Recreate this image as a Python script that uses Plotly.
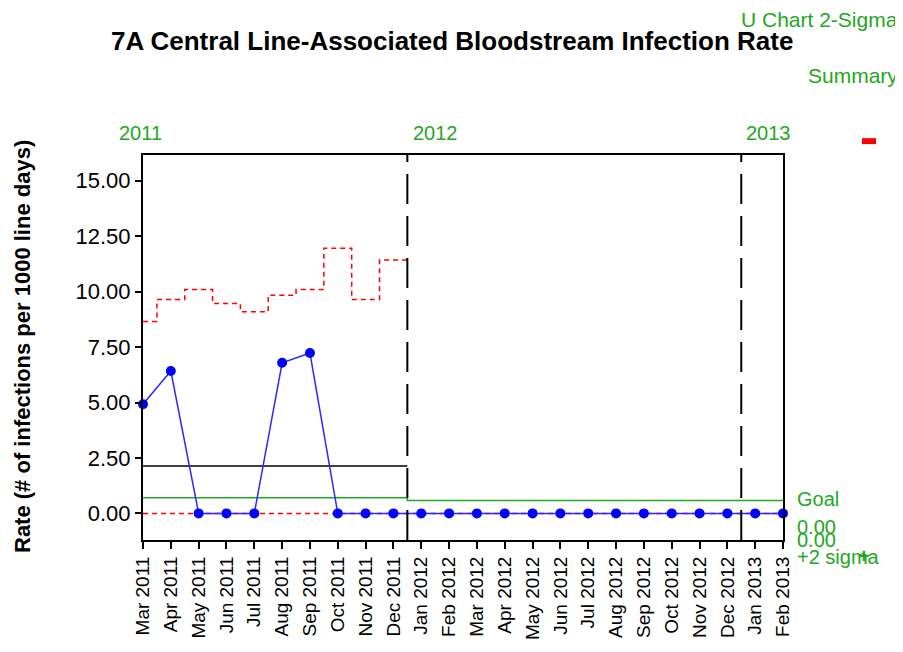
import plotly.graph_objects as go

months = ["Mar 2011", "Apr 2011", "May 2011", "Jun 2011", "Jul 2011", "Aug 2011",
          "Sep 2011", "Oct 2011", "Nov 2011", "Dec 2011",
          "Jan 2012", "Feb 2012", "Mar 2012", "Apr 2012", "May 2012", "Jun 2012",
          "Jul 2012", "Aug 2012", "Sep 2012", "Oct 2012", "Nov 2012", "Dec 2012",
          "Jan 2013", "Feb 2013"]
rate = [4.92, 6.42, 0, 0, 0, 6.79, 7.23, 0, 0, 0,
        0, 0, 0, 0, 0, 0, 0, 0, 0, 0, 0, 0,
        0, 0]
ucl_2011 = [8.65, 9.64, 10.09, 9.46, 9.09, 9.84, 10.09, 11.96, 9.64, 11.43]
center_2011 = 2.14
goal_2011 = 0.70
goal_later = 0.58
lcl = 0.0
year_breaks = [9.5, 21.5]
year_labels = ["2011", "2012", "2013"]
y_ticks = [0, 2.5, 5, 7.5, 10, 12.5, 15]

FONT = "Arial, Liberation Sans, sans-serif"
GREEN = "#22a822"

# page body has an 8px margin; work in reference (window) pixel coords
OFF = 8
W, H = 903 - OFF, 652 - OFF
L, R, T, B = 143, 783, 155, 544  # plot area in window pixels


def px(x):
    return (x - L) / (R - L)


def py(y):
    return (B - y) / (B - T)


n = len(months)
xs = list(range(n))

fig = go.Figure()

# LCL at zero (red dashed)
fig.add_trace(go.Scatter(x=[0, n - 1], y=[lcl, lcl], mode="lines",
                         line=dict(color="red", width=1.5, dash="5px,4px"),
                         hoverinfo="skip", showlegend=False))
# UCL step (2011)
ucl_x = list(range(len(ucl_2011))) + [year_breaks[0]]
ucl_y = ucl_2011 + [ucl_2011[-1]]
fig.add_trace(go.Scatter(x=ucl_x, y=ucl_y, mode="lines", line_shape="hvh",
                         line=dict(color="red", width=1.5, dash="5px,4px"),
                         hoverinfo="skip", showlegend=False))
# center line (2011)
fig.add_trace(go.Scatter(x=[0, year_breaks[0]], y=[center_2011, center_2011], mode="lines",
                         line=dict(color="black", width=1.5),
                         hoverinfo="skip", showlegend=False))
# goal line
fig.add_trace(go.Scatter(x=[0, year_breaks[0], n - 1], y=[goal_2011, goal_later, goal_later],
                         mode="lines", line_shape="hv",
                         line=dict(color=GREEN, width=1.5),
                         hoverinfo="skip", showlegend=False))
# data
fig.add_trace(go.Scatter(x=xs, y=rate, mode="lines+markers",
                         line=dict(color="#2a2aff", width=1.5),
                         marker=dict(color="blue", size=10),
                         cliponaxis=False, showlegend=False))

for xb in year_breaks:
    fig.add_shape(type="line", xref="x", yref="paper", x0=xb, x1=xb, y0=0, y1=1,
                  line=dict(color="black", width=2, dash="30px,12px"))

ann = []
ann.append(dict(text="<b>7A Central Line-Associated Bloodstream Infection Rate</b>",
                x=px(452), y=py(40), font=dict(size=26, color="black")))
ann.append(dict(text="<b>Rate (# of infections per 1000 line days)</b>", textangle=-90,
                x=px(22), y=py(349), font=dict(size=22, color="black")))
for lab, xc in zip(year_labels, [140, 435, 768]):
    ann.append(dict(text=lab, x=px(xc), y=py(133), font=dict(size=20, color=GREEN)))
ann.append(dict(text="U Chart 2-Sigma", x=px(900), y=py(18), xanchor="right",
                font=dict(size=21, color=GREEN)))
ann.append(dict(text="Summary", x=px(900), y=py(75), xanchor="right",
                font=dict(size=21, color=GREEN)))
for lab, yc in [("Goal", 503), ("0.00", 531), ("0.00", 544), ("+2 sigma", 561)]:
    ann.append(dict(text=lab, x=px(795), y=py(yc), xanchor="left",
                    font=dict(size=20, color=GREEN)))
ann.append(dict(text="<b>+</b>", x=px(864), y=py(560), font=dict(size=20, color=GREEN)))

annotations = []
for a in ann:
    base = dict(xref="paper", yref="paper", showarrow=False, xanchor="center",
                yanchor="middle")
    base.update(a)
    base["font"] = dict(family=FONT, **a["font"])
    annotations.append(base)

fig.add_shape(type="rect", xref="paper", yref="paper",
              x0=px(862), x1=px(876), y0=py(144), y1=py(138),
              fillcolor="red", line=dict(width=0))

fig.update_layout(
    width=W, height=H,
    margin=dict(l=L - OFF, r=W - (R - OFF), t=T - OFF, b=H - (B - OFF), pad=0),
    paper_bgcolor="white", plot_bgcolor="white",
    font=dict(family=FONT, color="black"),
    annotations=annotations,
    showlegend=False,
)
fig.update_xaxes(range=[0, n - 1], tickmode="array", tickvals=xs, ticktext=months,
                 tickangle=-90, tickfont=dict(size=19, color="black"),
                 showgrid=False, zeroline=False, showline=True, mirror=True,
                 linecolor="black", linewidth=2, ticks="outside", ticklen=7,
                 tickwidth=2, tickcolor="black")
fig.update_yaxes(range=[-1.2, 16.16], tickmode="array", tickvals=y_ticks,
                 tickformat=".2f", tickfont=dict(size=22, color="black"),
                 showgrid=False, zeroline=False, showline=True, mirror=True,
                 linecolor="black", linewidth=2, ticks="outside", ticklen=6,
                 tickwidth=2, tickcolor="black")

fig.write_html("out.html")
